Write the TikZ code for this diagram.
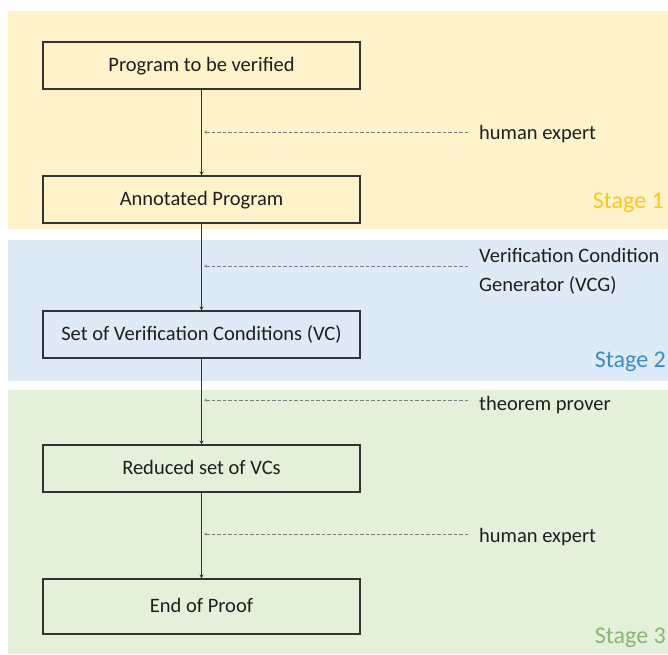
\documentclass[tikz,border=0pt]{standalone}
\usepackage{fontspec}
\setmainfont{Carlito}
\usetikzlibrary{arrows.meta}
\definecolor{bgyellow}{HTML}{FFF3CC}
\definecolor{bgblue}{HTML}{DEEAF6}
\definecolor{bggreen}{HTML}{E3F1DB}
\definecolor{styellow}{HTML}{FFC51A}
\definecolor{stblue}{HTML}{3A8CC6}
\definecolor{stgreen}{HTML}{88B676}
\definecolor{boxline}{HTML}{333333}
\definecolor{dashcol}{HTML}{7A7A7A}
\definecolor{txt}{HTML}{1E1E1E}
\tikzset{
  stepbox/.style={draw=boxline, line width=1.1pt, minimum width=317pt, minimum height=47pt, inner sep=0pt, font=\fontsize{20.5}{24}\selectfont, text=txt, text height=14pt, text depth=3pt},
  flow/.style={draw=boxline, line width=0.9pt, -{Stealth[length=4pt,width=4pt]}},
  dasharrow/.style={draw=dashcol, line width=0.8pt, dash pattern=on 3.5pt off 2pt, -{Stealth[length=3pt,width=3pt,open]}},
  lbl/.style={anchor=west, inner sep=0pt, font=\fontsize{20.5}{29}\selectfont, text=txt, align=left},
  stagelbl/.style={anchor=east, inner sep=0pt, font=\fontsize{24}{28}\selectfont},
}
\begin{document}
\begin{tikzpicture}[x=1pt,y=-1pt]
\useasboundingbox (0,0) rectangle (668,654);
% stage backgrounds
\fill[bgyellow] (8,11) rectangle (668,229);
\fill[bgblue] (8,240) rectangle (668,381);
\fill[bggreen] (8,390) rectangle (668,654);
% boxes
\node[stepbox] (b1) at (201.5,65.5) {Program to be verified};
\node[stepbox] (b2) at (201.5,199.5) {Annotated Program};
\node[stepbox] (b3) at (201.5,334.5) {Set of Verification Conditions (VC)};
\node[stepbox] (b4) at (201.5,468.5) {Reduced set of VCs};
\node[stepbox, minimum height=55pt] (b5) at (201.5,606.5) {End of Proof};
% flow arrows
\draw[flow] (b1.south) -- (b2.north);
\draw[flow] (b2.south) -- (b3.north);
\draw[flow] (b3.south) -- (b4.north);
\draw[flow] (b4.south) -- (b5.north);
% dashed inputs
\coordinate (s1) at (468,132); \coordinate (e1) at (204,132);
\coordinate (s2) at (468,266); \coordinate (e2) at (204,266);
\coordinate (s3) at (468,400); \coordinate (e3) at (204,400);
\coordinate (s4) at (468,534); \coordinate (e4) at (204,534);
\draw[dasharrow] (s1) -- (e1);
\draw[dasharrow] (s2) -- (e2);
\draw[dasharrow] (s3) -- (e3);
\draw[dasharrow] (s4) -- (e4);
% labels
\node[lbl] (l1) at (479,134) {human expert};
\node[lbl] (l2) at (479,271) {Verification Condition\\Generator (VCG)};
\node[lbl] (l3) at (479,405) {theorem prover};
\node[lbl] (l4) at (479,537) {human expert};
% stage labels
\node[stagelbl, text=styellow] (st1) at (664,203) {Stage 1};
\node[stagelbl, text=stblue] (st2) at (666,362) {Stage 2};
\node[stagelbl, text=stgreen] (st3) at (666,638) {Stage 3};
\end{tikzpicture}
\end{document}
